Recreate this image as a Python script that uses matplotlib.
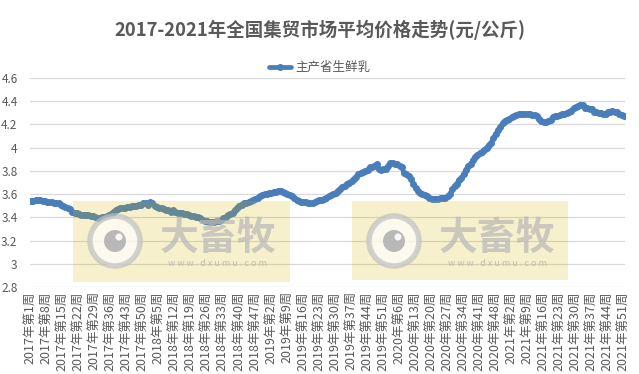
import numpy as np
import matplotlib.pyplot as plt
from matplotlib.patches import Rectangle, Circle

plt.rcParams['font.family'] = ['Noto Sans CJK SC', 'DejaVu Sans']

# weekly price of fresh milk, main producing provinces (yuan/kg)
years = [2017, 2018, 2019, 2020, 2021]
weeks_in_year = [52, 52, 52, 53, 51]

p2017 = [3.54, 3.54, 3.55, 3.55, 3.55, 3.54, 3.54, 3.53, 3.53, 3.53,
         3.52, 3.52, 3.52, 3.51, 3.50, 3.49, 3.48, 3.47, 3.45, 3.44,
         3.44, 3.43, 3.42, 3.42, 3.42, 3.42, 3.41, 3.41, 3.40, 3.39,
         3.39, 3.40, 3.40, 3.41, 3.42, 3.43, 3.45, 3.46, 3.47, 3.48,
         3.48, 3.48, 3.49, 3.49, 3.50, 3.50, 3.50, 3.51, 3.51, 3.52, 3.52, 3.51]
p2018 = [3.53, 3.52, 3.50, 3.49, 3.48, 3.48, 3.47, 3.46, 3.46, 3.45,
         3.46, 3.45, 3.44, 3.44, 3.44, 3.43, 3.43, 3.42, 3.41, 3.41,
         3.40, 3.40, 3.39, 3.38, 3.37, 3.37, 3.36, 3.36, 3.36, 3.37,
         3.37, 3.38, 3.39, 3.40, 3.42, 3.43, 3.44, 3.46, 3.48, 3.50,
         3.51, 3.52, 3.52, 3.53, 3.54, 3.55, 3.56, 3.57, 3.58, 3.59, 3.60, 3.60]
p2019 = [3.61, 3.61, 3.62, 3.62, 3.63, 3.63, 3.62, 3.61, 3.60, 3.59,
         3.58, 3.57, 3.55, 3.54, 3.53, 3.53, 3.53, 3.52, 3.52, 3.52,
         3.53, 3.54, 3.55, 3.55, 3.56, 3.57, 3.58, 3.59, 3.60, 3.61,
         3.63, 3.64, 3.66, 3.67, 3.69, 3.70, 3.71, 3.73, 3.75, 3.77,
         3.78, 3.79, 3.80, 3.81, 3.83, 3.83, 3.84, 3.86, 3.82, 3.81, 3.82, 3.82]
p2020 = [3.84, 3.87, 3.87, 3.86, 3.86, 3.84, 3.83, 3.78, 3.77, 3.76,
         3.73, 3.69, 3.65, 3.63, 3.61, 3.60, 3.59, 3.58, 3.57, 3.56,
         3.56, 3.56, 3.56, 3.57, 3.57, 3.57, 3.58, 3.60, 3.64, 3.67,
         3.69, 3.72, 3.74, 3.77, 3.81, 3.84, 3.86, 3.89, 3.92, 3.94,
         3.95, 3.96, 3.98, 4.00, 4.02, 4.04, 4.08, 4.12, 4.15, 4.18, 4.21, 4.23, 4.24]
p2021 = [4.25, 4.26, 4.27, 4.28, 4.29, 4.29, 4.29, 4.29, 4.29, 4.29,
         4.28, 4.28, 4.27, 4.25, 4.23, 4.22, 4.22, 4.23, 4.24, 4.26,
         4.27, 4.27, 4.28, 4.29, 4.29, 4.30, 4.31, 4.32, 4.34, 4.35,
         4.36, 4.37, 4.37, 4.34, 4.34, 4.33, 4.33, 4.31, 4.31, 4.30,
         4.30, 4.29, 4.29, 4.31, 4.31, 4.32, 4.31, 4.31, 4.29, 4.28, 4.27]

prices = p2017 + p2018 + p2019 + p2020 + p2021
labels = []
for y, n in zip(years, weeks_in_year):
    for w in range(1, n + 1):
        labels.append(f'{y}年第{w}周')

x = np.arange(len(prices))
W, H = 639, 374
fig = plt.figure(figsize=(W / 100, H / 100), dpi=100)
ax = fig.add_axes([30 / W, 1 - 287 / H, 595 / W, 209 / H])

ax.plot(x, prices, color='#4A7EBB', lw=3.4, marker='o', ms=4,
        solid_capstyle='round', solid_joinstyle='round', zorder=3,
        label='主产省生鲜乳')

ax.set_xlim(-0.5, len(prices) - 0.5)
ax.set_ylim(2.8, 4.6)
yt = np.arange(2.8, 4.61, 0.2)
ax.set_yticks(yt)
ax.set_yticklabels([f'{v:g}' for v in np.round(yt, 1)])
ax.set_xticks(x[::7])
ax.set_xticklabels(labels[::7], rotation=90)
ax.grid(axis='y', color='#D9D9D9', lw=0.9)
ax.set_axisbelow(True)
for s in ax.spines.values():
    s.set_visible(False)
ax.tick_params(axis='both', length=0, colors='#595959', labelsize=9)
ax.tick_params(axis='y', pad=9, labelsize=8.5)
ax.tick_params(axis='x', pad=3)

ax.legend(loc='center', bbox_to_anchor=(0.5, 1 - 68 / H),
          bbox_transform=fig.transFigure, frameon=False, fontsize=9,
          handlelength=1.8, labelcolor='#595959', handletextpad=0.3)

fig.text(0.5, 1 - 30 / H, '2017-2021年全国集贸市场平均价格走势(元/公斤)',
         ha='center', va='center', fontsize=13.3, weight='bold', color='#595959')

# watermark overlay in pixel coordinates
ov = fig.add_axes([0, 0, 1, 1], zorder=5)
ov.set_xlim(0, W)
ov.set_ylim(H, 0)
ov.set_axis_off()
for x0, y0, w, h in [(73, 201, 217, 81), (352, 201, 216, 79)]:
    ov.add_patch(Rectangle((x0, y0), w, h, facecolor='#D4B400', alpha=0.2, lw=0))
    cx, cy = x0 + 42, 241
    ov.add_patch(Circle((cx, cy), 25, facecolor='white', edgecolor='#C0C0C0', lw=4, alpha=0.7))
    ov.add_patch(Circle((cx, cy), 11, facecolor='#A8A8A8', lw=0, alpha=0.8))
    ov.add_patch(Circle((cx + 4, cy - 4), 3.5, facecolor='white', lw=0, alpha=0.9))
    ov.text(x0 + 145, 238, '大畜牧', ha='center', va='center', fontsize=28,
            weight='bold', color='#B8B8B8', alpha=0.7)
    ov.text(x0 + 145, 263, 'w w w . d x u m u . c o m', ha='center', va='center',
            fontsize=6.5, color='#B4B4B4', alpha=0.8)

fig.savefig('out.png', dpi=100)
